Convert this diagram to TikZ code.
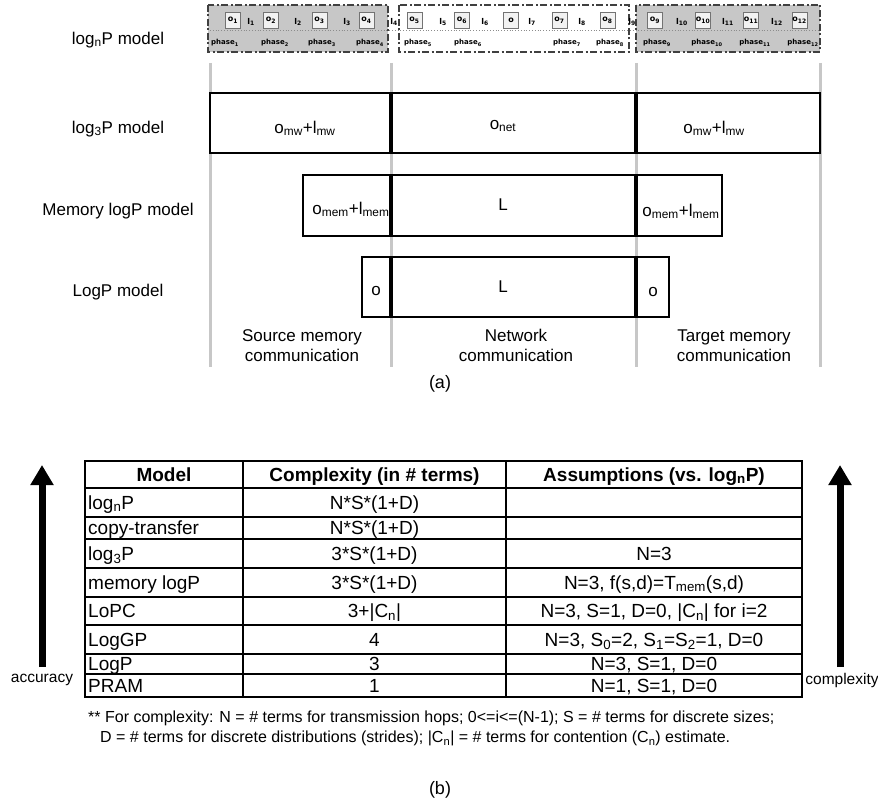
\documentclass[tikz,border=0pt]{standalone}
\usepackage{fontspec}
\setmainfont{Liberation Sans}
\newfontfamily\stripfont{DejaVu Sans}
\usetikzlibrary{arrows.meta}
\newcommand\lsub[1]{\textsubscript{#1}}
\begin{document}
\begin{tikzpicture}[x=1pt,y=-1pt,
 guide/.style={draw=black!22, line width=3pt},
 modelbox/.style={draw=black, line width=2.6pt},
 divider/.style={draw=black, line width=4.5pt},
 big/.style={font=\fontsize{17}{20}\selectfont, inner sep=0pt, text height=12.2pt, text depth=0pt},
 stripbox/.style={draw=black!75, line width=1.5pt, dash pattern=on 7pt off 2.5pt on 2pt off 2.5pt},
 obox/.style={draw=black!55, fill=black!5, line width=0.7pt, minimum width=15pt, minimum height=16pt, inner sep=0pt, font=\stripfont\bfseries\fontsize{8}{9}\selectfont},
 ltxt/.style={inner sep=0pt, font=\stripfont\bfseries\fontsize{8}{9}\selectfont},
 ptxt/.style={inner sep=0pt, font=\stripfont\bfseries\fontsize{7}{8}\selectfont},
 hdr/.style={font=\bfseries\fontsize{19}{22}\selectfont, inner sep=0pt, text height=13.6pt, text depth=0pt},
 cell/.style={font=\fontsize{19}{22}\selectfont, inner sep=0pt, text height=13.6pt, text depth=0pt},
 tline/.style={draw=black, line width=1.7pt},
 bigarrow/.style={line width=7pt, -{Triangle[width=22pt,length=20pt]}},
 note/.style={font=\fontsize{16}{19}\selectfont, inner sep=0pt, anchor=west, text height=11.5pt, text depth=0pt},
 side/.style={font=\fontsize{15.5}{18}\selectfont, inner sep=0pt},
 captxt/.style={font=\fontsize{18}{21}\selectfont, inner sep=0pt},
]
\useasboundingbox (0,0) rectangle (878,805);

% ---------- top strip (log_n P) ----------
\draw[stripbox, fill=black!22] (208,5) rectangle (388,52);
\draw[stripbox, fill=white] (399,5) rectangle (629,52);
\draw[stripbox, fill=black!22] (636,5) rectangle (820,52);
\draw[black!45, dotted, line width=0.8pt] (210,30) -- (818,30);

\foreach \x/\i in {233/1, 271/2, 319.5/3, 366.5/4, 414.5/5, 462/6, 559.5/7, 607.5/8, 655/9, 703/10, 751/11, 799.5/12}
  \node[obox] (o\i) at (\x,20) {o\lsub{\i}};
\node[obox] (omid) at (511,20) {o};
\foreach \x/\i in {251/1, 298/2, 347/3, 394/4, 443/5, 485/6, 532/7, 582/8, 632/9, 682/10, 728/11, 777/12}
  \node[ltxt] (l\i) at (\x,22) {l\lsub{\i}};
\foreach \x/\i in {225/1, 275/2, 322/3, 370/4, 418/5, 468/6, 567/7, 610/8, 657/9, 707/10, 755/11, 803/12}
  \node[ptxt] (ph\i) at (\x,43) {phase\lsub{\i}};

% ---------- guides ----------
\foreach \x in {210, 391, 636, 820}
  \draw[guide] (\x,63) -- (\x,367);

% ---------- model boxes ----------
\draw[modelbox, fill=white] (210,93) rectangle (820,153);
\draw[divider] (391,93) -- (391,153);
\draw[divider] (636,93) -- (636,153);
\draw[modelbox, fill=white] (303,175) rectangle (722,236);
\draw[divider] (391,175) -- (391,236);
\draw[divider] (636,175) -- (636,236);
\draw[modelbox, fill=white] (362,257) rectangle (669,317);
\draw[divider] (391,257) -- (391,317);
\draw[divider] (636,257) -- (636,317);

\node[big] (m1) at (118,38) {log\lsub{n}P model};
\node[big] (m2) at (118,127) {log\lsub{3}P model};
\node[big] (m3) at (118,209) {Memory logP model};
\node[big] (m4) at (118,290) {LogP model};

\node[big] (t1) at (305,127) {o\lsub{mw}+l\lsub{mw}};
\node[big] (t2) at (503,123) {o\lsub{net}};
\node[big] (t3) at (714,127) {o\lsub{mw}+l\lsub{mw}};
\node[big] (t4) at (351,208) {o\lsub{mem}+l\lsub{mem}};
\node[big] (t5) at (503,204) {L};
\node[big] (t6) at (681,210) {o\lsub{mem}+l\lsub{mem}};
\node[big] (t7) at (376,289) {o};
\node[big] (t8) at (503,286) {L};
\node[big] (t9) at (653,290) {o};

\node[big, align=center] (c1) at (302,355.5) {Source memory\\communication};
\node[big, align=center] (c2) at (516,355.5) {Network\\communication};
\node[big, align=center] (c3) at (734,355.5) {Target memory\\communication};

\node[captxt] (capa) at (440,384) {(a)};

% ---------- table ----------
\draw[tline] (85,461) rectangle (802,697);
\foreach \y in {488,517,539,568,597,625,654,674}
  \draw[tline] (85,\y) -- (802,\y);
\draw[tline] (243,461) -- (243,697);
\draw[tline] (506,461) -- (506,697);

\node[hdr] (h1) at (164,474.5) {Model};
\node[hdr] (h2) at (374.5,474.5) {Complexity (in \# terms)};
\node[hdr] (h3) at (654,474.5) {Assumptions (vs. log\lsub{n}P)};

\node[cell, anchor=west] (r1a) at (88,502.5) {log\lsub{n}P};
\node[cell] (r1b) at (374.5,502.5) {N*S*(1+D)};
\node[cell, anchor=west] (r2a) at (88,528) {copy-transfer};
\node[cell] (r2b) at (374.5,528) {N*S*(1+D)};
\node[cell, anchor=west] (r3a) at (88,553.5) {log\lsub{3}P};
\node[cell] (r3b) at (374.5,553.5) {3*S*(1+D)};
\node[cell] (r3c) at (654,553.5) {N=3};
\node[cell, anchor=west] (r4a) at (88,582.5) {memory logP};
\node[cell] (r4b) at (374.5,582.5) {3*S*(1+D)};
\node[cell] (r4c) at (654,582.5) {N=3, f(s,d)=T\lsub{mem}(s,d)};
\node[cell, anchor=west] (r5a) at (88,611) {LoPC};
\node[cell] (r5b) at (374.5,611) {3+|C\lsub{n}|};
\node[cell] (r5c) at (654,611) {N=3, S=1, D=0, |C\lsub{n}| for i=2};
\node[cell, anchor=west] (r6a) at (88,639.5) {LogGP};
\node[cell] (r6b) at (374.5,639.5) {4};
\node[cell] (r6c) at (654,639.5) {N=3, S\lsub{0}=2, S\lsub{1}=S\lsub{2}=1, D=0};
\node[cell, anchor=west] (r7a) at (88,664) {LogP};
\node[cell] (r7b) at (374.5,664) {3};
\node[cell] (r7c) at (654,664) {N=3, S=1, D=0};
\node[cell, anchor=west] (r8a) at (88,685.5) {PRAM};
\node[cell] (r8b) at (374.5,685.5) {1};
\node[cell] (r8c) at (654,685.5) {N=1, S=1, D=0};

% ---------- arrows ----------
\coordinate (accL) at (42,667);
\coordinate (accT) at (42,465);
\coordinate (cpxL) at (840,667);
\coordinate (cpxT) at (840,465);
\draw[bigarrow] (accL) -- (accT);
\draw[bigarrow] (cpxL) -- (cpxT);
\node[side] (acc) at (42,680) {accuracy};
\node[side] (cpx) at (842,680) {complexity};

% ---------- footnote ----------
\node[note] (n1) at (88,717) {** For complexity: N = \# terms for transmission hops; 0<=i<=(N-1); S = \# terms for discrete sizes;};
\node[note] (n2) at (100,737) {D = \# terms for discrete distributions (strides); |C\lsub{n}| = \# terms for contention (C\lsub{n}) estimate.};

\node[captxt] (capb) at (440,790) {(b)};
\end{tikzpicture}
\end{document}
